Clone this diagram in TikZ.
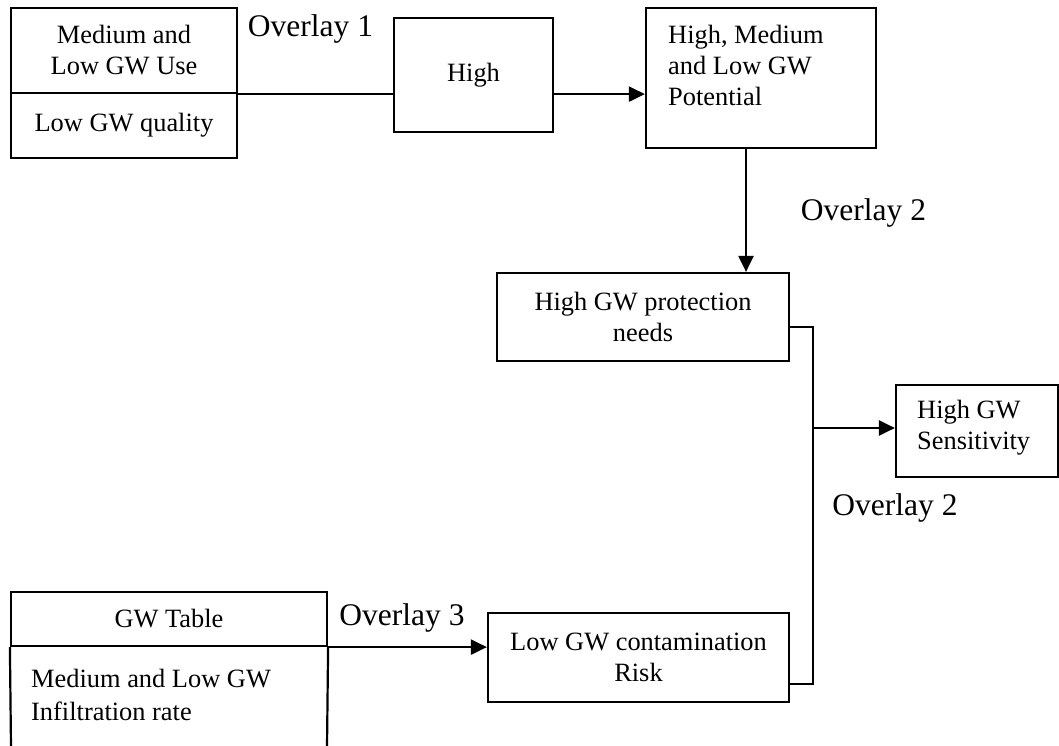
\documentclass[tikz,border=0pt]{standalone}
\usepackage{fontspec}
\setmainfont{Liberation Serif}
\usetikzlibrary{arrows.meta}
\begin{document}
\begin{tikzpicture}[x=1pt,y=-1pt,
  box/.style={draw,line width=2.2pt,inner sep=0pt,align=center,font=\fontsize{26.4}{31}\selectfont},
  txt/.style={inner sep=0pt,align=left,anchor=west,font=\fontsize{26.4}{31}\selectfont},
  ovl/.style={inner sep=0pt,anchor=base,font=\fontsize{31.5}{36}\selectfont},
  wire/.style={line width=2.2pt},
  arr/.style={wire,-{Triangle[length=16pt,width=15pt]}}]
\useasboundingbox (0,0) rectangle (1059,746);
% boxes
\node[box,minimum width=226pt,minimum height=85pt] (a1) at (124,50.5) {Medium and\\Low GW Use};
\node[box,minimum width=226pt,minimum height=65pt] (a2) at (124,125.5) {Low GW quality};
\node[box,minimum width=159pt,minimum height=114pt] (high) at (473.5,75) {High};
\node[box,minimum width=230pt,minimum height=140pt] (pot) at (761,78) {};
\node[txt] (potx) at (668,65) {High, Medium\\and Low GW\\Potential};
\node[box,minimum width=292pt,minimum height=88pt] (prot) at (643,317) {High GW protection\\needs};
\node[box,minimum width=162pt,minimum height=92pt] (sens) at (977,431) {};
\node[txt] (sensx) at (917,427.5) {High GW\\Sensitivity};
\node[box,minimum width=316pt,minimum height=54pt] (g1) at (169,619) {GW Table};
\coordinate (g1bl) at (11,747);
\coordinate (g1br) at (327,747);
\draw[wire] (g1.south west) -- (g1bl);
\draw[wire] (g1.south east) -- (g1br);
\node[txt,font=\fontsize{26.4}{33}\selectfont] (g2) at (31,694.5) {Medium and Low GW\\Infiltration rate};
\node[box,minimum width=301pt,minimum height=89pt] (risk) at (638.5,657.5) {Low GW contamination\\Risk};
% labels
\node[ovl] (o1) at (310.5,37) {Overlay 1};
\node[ovl] (o2a) at (863.5,220) {Overlay 2};
\node[ovl] (o2b) at (895,515) {Overlay 2};
\node[ovl] (o3) at (402,625) {Overlay 3};
% connectors
\coordinate (c1) at (746,0);
\coordinate (j1) at (813,327);
\coordinate (j2) at (813,684);
\coordinate (j3) at (813,428);
\draw[wire] (a1.south east) -- (a1.south east -| high.west);
\draw[arr] (a1.south east -| high.east) -- (a1.south east -| pot.west);
\draw[arr] (pot.south -| c1) -- (prot.north -| c1);
\draw[wire] (prot.east |- j1) -- (j1) -- (j2) -- (risk.east |- j2);
\draw[arr] (j3) -- (sens.west |- j3);
\draw[arr] (g1.south east) -- (g1.south east -| risk.west);
\end{tikzpicture}
\end{document}
